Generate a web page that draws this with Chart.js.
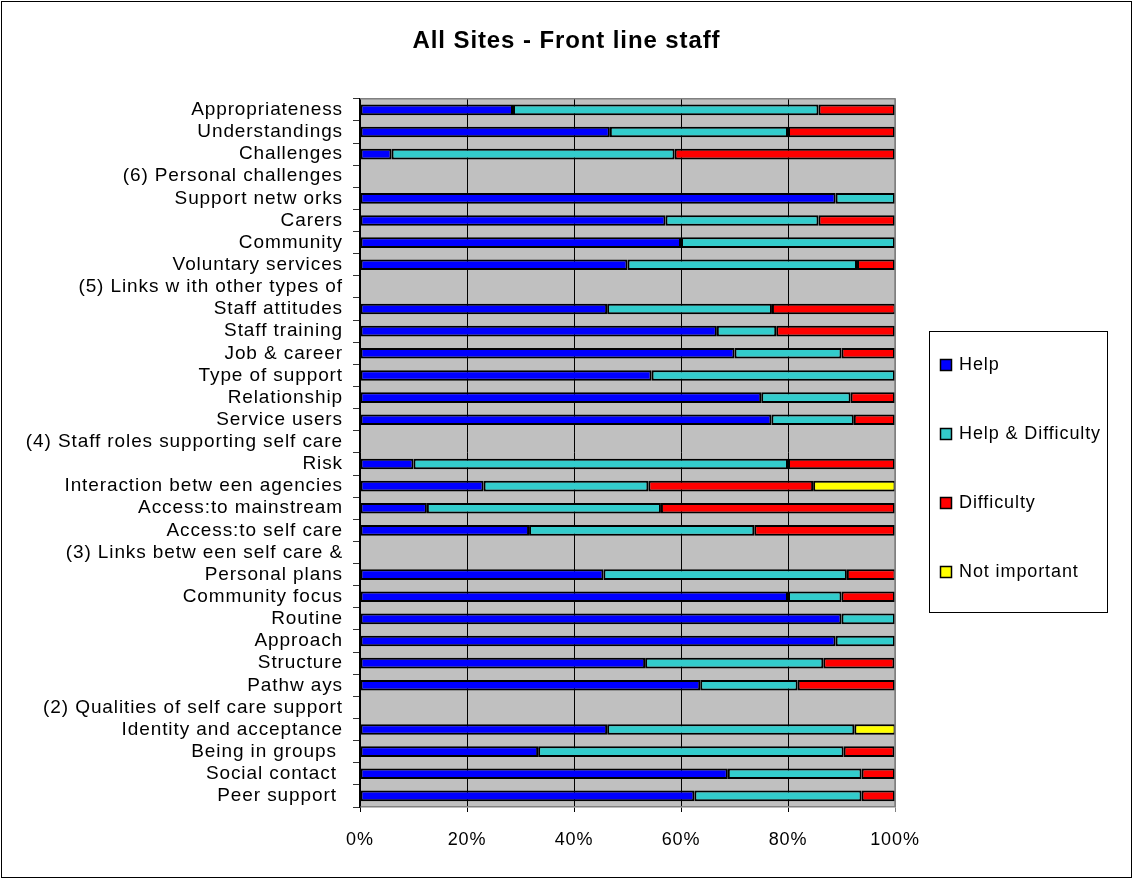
<!DOCTYPE html>
<html>
<head>
<meta charset="utf-8">
<title>All Sites - Front line staff</title>
<script src="https://cdn.jsdelivr.net/npm/chart.js@4.4.1/dist/chart.umd.min.js"></script>
<style>
  html, body { margin: 0; padding: 0; background: #fff; }
  #wrap { width: 1133px; height: 879px; }
</style>
</head>
<body>
<div id="wrap"><canvas id="chart" width="1133" height="879"></canvas></div>
<script>
// categories, top to bottom
const categories = [
  'Appropriateness', 'Understandings', 'Challenges', '(6) Personal challenges',
  'Support netw orks', 'Carers', 'Community', 'Voluntary services',
  '(5) Links w ith other types of', 'Staff attitudes', 'Staff training', 'Job & career',
  'Type of support', 'Relationship', 'Service users', '(4) Staff roles supporting self care',
  'Risk', 'Interaction betw een agencies', 'Access:to mainstream', 'Access:to self care',
  '(3) Links betw een self care &', 'Personal plans', 'Community focus', 'Routine',
  'Approach', 'Structure', 'Pathw ays', '(2) Qualities of self care support',
  'Identity and acceptance', 'Being in groups ', 'Social contact ', 'Peer support '
];

// percentages
const help = [
  28.6, 46.7, 5.9, null,
  88.9, 57.1, 60, 50,
  null, 46.2, 66.7, 70,
  54.5, 75, 76.9, null,
  10, 23.1, 12.5, 31.6,
  null, 45.5, 80, 90,
  88.9, 53.3, 63.6, null,
  46.2, 33.3, 68.75, 62.5
];
const helpDifficulty = [
  57.1, 33.3, 52.9, null,
  11.1, 28.6, 40, 42.9,
  null, 30.8, 11.1, 20,
  45.5, 16.7, 15.4, null,
  70, 30.8, 43.75, 42.1,
  null, 45.5, 10, 10,
  11.1, 33.3, 18.2, null,
  46.2, 57.1, 25, 31.25
];
const difficulty = [
  14.3, 20, 41.2, null,
  null, 14.3, null, 7.1,
  null, 23.1, 22.2, 10,
  null, 8.3, 7.7, null,
  20, 30.8, 43.75, 26.3,
  null, 9.1, 10, null,
  null, 13.3, 18.2, null,
  null, 9.5, 6.25, 6.25
];
const notImportant = [
  null, null, null, null,
  null, null, null, null,
  null, null, null, null,
  null, null, null, null,
  null, 15.4, null, null,
  null, null, null, null,
  null, null, null, null,
  7.7, null, null, null
];
const xTicks = [0, 20, 40, 60, 80, 100];

const seriesNames = ['Help', 'Help & Difficulty', 'Difficulty', 'Not important'];
const seriesColors = ['#0000FF', '#33CCCC', '#FF0000', '#FFFF00'];
const seriesData = [help, helpDifficulty, difficulty, notImportant];

const FONT = 'Liberation Sans, Arial, sans-serif';

// grey plot background, plot border, outer frame and letter spacing
const frame = {
  id: 'frame',
  beforeDraw(chart) {
    const { ctx, chartArea: a } = chart;
    ctx.letterSpacing = '0.9px';
    ctx.save();
    ctx.fillStyle = '#C0C0C0';
    ctx.fillRect(a.left, a.top, a.right - a.left, a.bottom - a.top);
    ctx.restore();
  },
  afterDraw(chart) {
    const { ctx, chartArea: a } = chart;
    ctx.save();
    ctx.strokeStyle = '#808080';
    ctx.lineWidth = 1.5;
    ctx.beginPath();
    ctx.moveTo(a.left, a.top);
    ctx.lineTo(a.right, a.top);
    ctx.lineTo(a.right, a.bottom);
    ctx.stroke();
    ctx.strokeStyle = '#000';
    ctx.lineWidth = 1;
    ctx.strokeRect(1.5, 1.5, chart.width - 3, chart.height - 3);
    ctx.restore();
  }
};

// boxed legend on the right, as in the original
const boxLegend = {
  id: 'boxLegend',
  afterDraw(chart) {
    const { ctx } = chart;
    const x = 929.5, y = 331.5, w = 178, h = 281;
    ctx.save();
    ctx.fillStyle = '#fff';
    ctx.fillRect(x, y, w, h);
    ctx.strokeStyle = '#000';
    ctx.lineWidth = 1;
    ctx.strokeRect(x, y, w, h);
    ctx.font = '18px ' + FONT;
    ctx.textBaseline = 'middle';
    chart.data.datasets.forEach((ds, i) => {
      const cy = 365 + i * 69;
      ctx.fillStyle = ds.backgroundColor;
      ctx.fillRect(940.5, cy - 5.5, 11, 11);
      ctx.lineWidth = 1.5;
      ctx.strokeRect(940.5, cy - 5.5, 11, 11);
      ctx.fillStyle = '#000';
      ctx.fillText(ds.label, 959, cy);
    });
    ctx.restore();
  }
};

new Chart(document.getElementById('chart').getContext('2d'), {
  type: 'bar',
  data: {
    labels: categories,
    datasets: seriesNames.map((name, i) => ({
      label: name,
      data: seriesData[i],
      backgroundColor: seriesColors[i],
      borderColor: '#000',
      borderWidth: 2,
      borderSkipped: false,
      barPercentage: 0.48,
      categoryPercentage: 1
    }))
  },
  options: {
    indexAxis: 'y',
    responsive: false,
    devicePixelRatio: 1,
    animation: false,
    layout: { padding: 0 },
    plugins: {
      legend: { display: false },
      tooltip: { enabled: false },
      title: {
        display: true,
        text: 'All Sites - Front line staff',
        color: '#000',
        font: { family: FONT, size: 24, weight: 'bold' },
        padding: { top: 27, bottom: 43 }
      }
    },
    scales: {
      x: {
        stacked: true,
        min: 0,
        max: 100,
        afterBuildTicks(scale) {
          scale.ticks = xTicks.map(v => ({ value: v }));
        },
        afterFit(scale) { scale.height = 72; },
        grid: {
          color: ctx => (ctx.tick && ctx.tick.value === 100 ? '#808080' : '#000'),
          lineWidth: 1,
          tickLength: 5,
          drawTicks: true
        },
        border: { color: '#808080', width: 1.5 },
        ticks: {
          color: '#000',
          font: { family: FONT, size: 18 },
          padding: 17,
          maxRotation: 0,
          callback: v => v + '%'
        }
      },
      y: {
        stacked: true,
        afterFit(scale) { scale.width = 360; },
        grid: {
          offset: true,
          drawOnChartArea: false,
          drawTicks: true,
          tickLength: 7,
          color: '#333'
        },
        border: { color: '#000', width: 1.5 },
        ticks: {
          color: '#000',
          font: { family: FONT, size: 19 },
          padding: 10,
          autoSkip: false
        }
      },
      // empty right-hand strip that holds the legend box
      legendSpace: {
        type: 'linear',
        position: 'right',
        afterFit(scale) { scale.width = 238; },
        grid: { display: false },
        border: { display: false },
        ticks: { display: false }
      }
    }
  },
  plugins: [frame, boxLegend]
});
</script>
</body>
</html>
